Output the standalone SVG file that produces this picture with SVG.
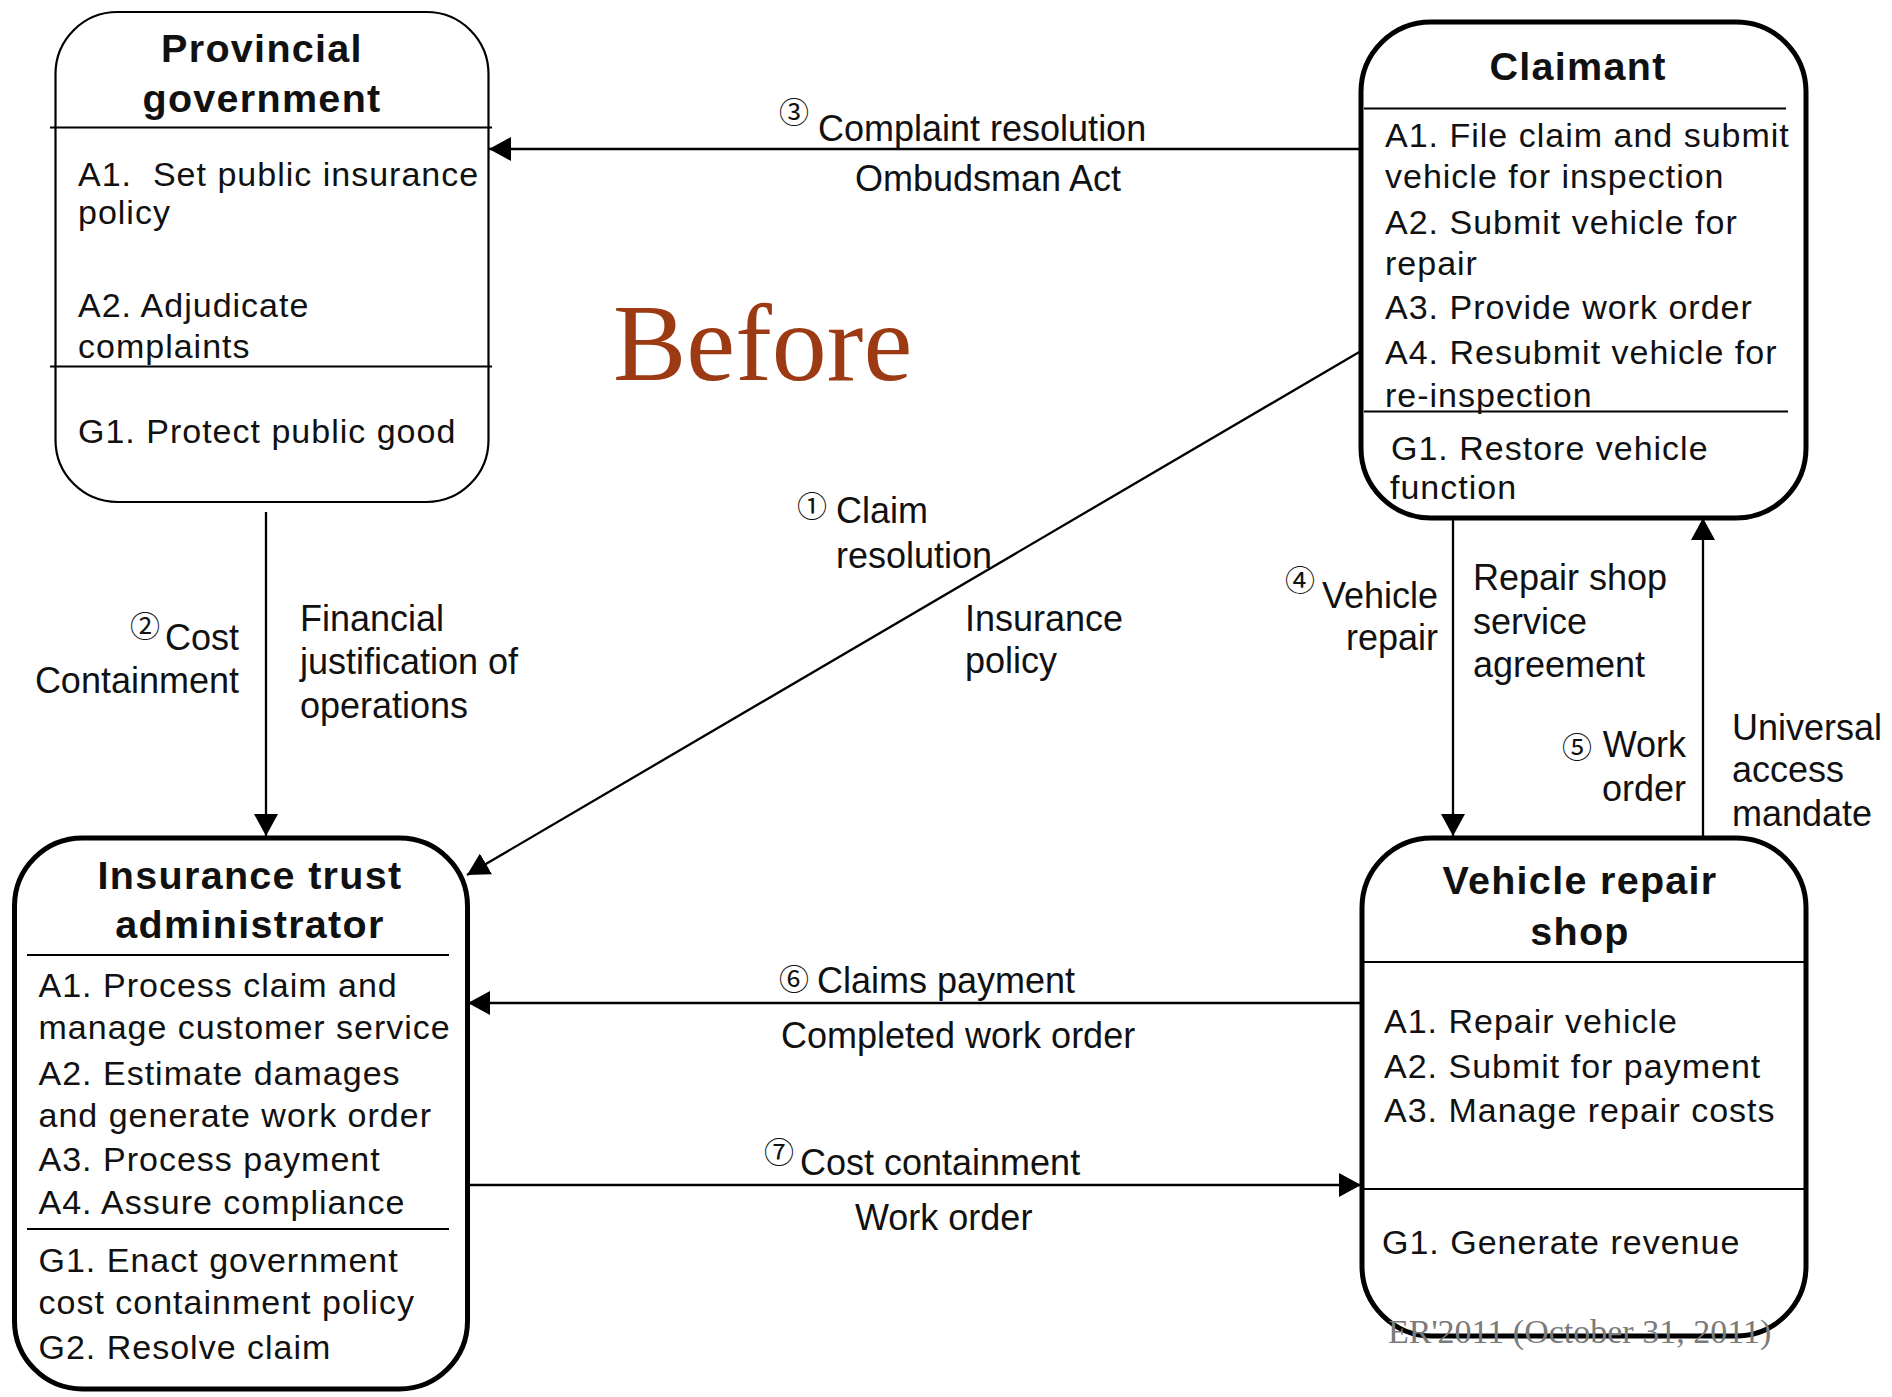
<svg xmlns="http://www.w3.org/2000/svg" width="1892" height="1397" viewBox="0 0 1892 1397">
  <style>
    text { font-family: "Liberation Sans", Arial, sans-serif; fill: #111; }
    .title { font-size: 39.5px; font-weight: bold; letter-spacing: 1.3px; text-anchor: middle; }
    .body { font-size: 34px; letter-spacing: 1px; }
    .lbl { font-size: 36px; }
    .end { text-anchor: end; }
    .num { font-family: "Noto Sans CJK JP", "DejaVu Sans", sans-serif; font-size: 30px; text-anchor: middle; dominant-baseline: central; }
    .box { fill: #fff; stroke: #000; stroke-width: 5; }
    .box.thin { stroke-width: 2.2; }
    .div { stroke: #000; stroke-width: 2; }
    .conn { stroke: #000; stroke-width: 2.3; fill: none; marker-end: url(#arrow); }
  </style>
  <defs>
    <marker id="arrow" viewBox="0 0 22 24" refX="22" refY="12" markerWidth="22" markerHeight="24" markerUnits="userSpaceOnUse" orient="auto">
      <path d="M0,0 L22,12 L0,24 Z" fill="#000"/>
    </marker>
  </defs>

  <rect width="1892" height="1397" fill="#fff"/>

  <!-- connectors -->
  <g id="connectors">
    <line class="conn" x1="1361" y1="149" x2="489" y2="149"/>
    <line class="conn" x1="1361" y1="351" x2="467" y2="875"/>
    <line class="conn" x1="266" y1="512" x2="266" y2="836"/>
    <line class="conn" x1="1453" y1="518" x2="1453" y2="836"/>
    <line class="conn" x1="1703" y1="838" x2="1703" y2="518"/>
    <line class="conn" x1="1361" y1="1003" x2="468" y2="1003"/>
    <line class="conn" x1="468" y1="1185" x2="1361" y2="1185"/>
  </g>

  <!-- connector labels -->
  <g id="labels">
    <text class="num" x="794" y="110">③</text>
    <text class="lbl" x="818" y="141">Complaint resolution</text>
    <text class="lbl" x="855" y="191">Ombudsman Act</text>

    <text class="num" x="812" y="504">①</text>
    <text class="lbl" x="836" y="523">Claim</text>
    <text class="lbl" x="836" y="568">resolution</text>
    <text class="lbl" x="965" y="631">Insurance</text>
    <text class="lbl" x="965" y="673">policy</text>

    <text class="num" x="145" y="624">②</text>
    <text class="lbl end" x="239" y="650">Cost</text>
    <text class="lbl end" x="239" y="693">Containment</text>
    <text class="lbl" x="300" y="631">Financial</text>
    <text class="lbl" x="300" y="674">justification of</text>
    <text class="lbl" x="300" y="718">operations</text>

    <text class="num" x="1300" y="578">④</text>
    <text class="lbl end" x="1438" y="608">Vehicle</text>
    <text class="lbl end" x="1438" y="650">repair</text>
    <text class="lbl" x="1473" y="590">Repair shop</text>
    <text class="lbl" x="1473" y="634">service</text>
    <text class="lbl" x="1473" y="677">agreement</text>

    <text class="num" x="1577" y="745">⑤</text>
    <text class="lbl end" x="1686" y="757">Work</text>
    <text class="lbl end" x="1686" y="801">order</text>
    <text class="lbl" x="1732" y="740">Universal</text>
    <text class="lbl" x="1732" y="782">access</text>
    <text class="lbl" x="1732" y="826">mandate</text>

    <text class="num" x="794" y="977">⑥</text>
    <text class="lbl" x="817" y="993">Claims payment</text>
    <text class="lbl" x="781" y="1048">Completed work order</text>

    <text class="num" x="779" y="1150">⑦</text>
    <text class="lbl" x="800" y="1175">Cost containment</text>
    <text class="lbl" x="855" y="1230">Work order</text>
  </g>

  <!-- Provincial government -->
  <g id="node-provincial">
    <rect class="box thin" x="55.5" y="12" width="433" height="490" rx="62" ry="62"/>
    <line class="div" x1="50" y1="127.5" x2="492" y2="127.5"/>
    <line class="div" x1="50" y1="366.5" x2="492" y2="366.5"/>
    <text class="title" x="262" y="62">Provincial</text>
    <text class="title" x="262" y="112">government</text>
    <text class="body" x="78" y="186" xml:space="preserve">A1.  Set public insurance</text>
    <text class="body" x="78" y="224">policy</text>
    <text class="body" x="78" y="317">A2. Adjudicate</text>
    <text class="body" x="78" y="358">complaints</text>
    <text class="body" x="78" y="443">G1. Protect public good</text>
  </g>

  <!-- Claimant -->
  <g id="node-claimant">
    <rect class="box" x="1361" y="22" width="445" height="496" rx="70" ry="70"/>
    <line class="div" x1="1364" y1="108.5" x2="1786" y2="108.5"/>
    <line class="div" x1="1364" y1="411.5" x2="1788" y2="411.5"/>
    <text class="title" x="1578" y="80">Claimant</text>
    <text class="body" x="1385" y="147">A1. File claim and submit</text>
    <text class="body" x="1385" y="188">vehicle for inspection</text>
    <text class="body" x="1385" y="234">A2. Submit vehicle for</text>
    <text class="body" x="1385" y="275">repair</text>
    <text class="body" x="1385" y="319">A3. Provide work order</text>
    <text class="body" x="1385" y="364">A4. Resubmit vehicle for</text>
    <text class="body" x="1385" y="407">re-inspection</text>
    <text class="body" x="1391" y="460">G1. Restore vehicle</text>
    <text class="body" x="1390" y="499">function</text>
  </g>

  <!-- Insurance trust administrator -->
  <g id="node-insurance">
    <rect class="box" x="14.5" y="838" width="453" height="551" rx="68" ry="68"/>
    <line class="div" x1="27" y1="955" x2="449" y2="955"/>
    <line class="div" x1="27" y1="1229" x2="449" y2="1229"/>
    <text class="title" x="250" y="889">Insurance trust</text>
    <text class="title" x="250" y="938">administrator</text>
    <text class="body" x="38.5" y="997">A1. Process claim and</text>
    <text class="body" x="38.5" y="1039">manage customer service</text>
    <text class="body" x="38.5" y="1085">A2. Estimate damages</text>
    <text class="body" x="38.5" y="1127">and generate work order</text>
    <text class="body" x="38.5" y="1171">A3. Process payment</text>
    <text class="body" x="38.5" y="1214">A4. Assure compliance</text>
    <text class="body" x="38.5" y="1272">G1. Enact government</text>
    <text class="body" x="38.5" y="1314">cost containment policy</text>
    <text class="body" x="38.5" y="1359">G2. Resolve claim</text>
  </g>

  <!-- Vehicle repair shop -->
  <g id="node-repair-shop">
    <rect class="box" x="1362" y="838" width="444" height="498" rx="70" ry="70"/>
    <line class="div" x1="1362" y1="962" x2="1804" y2="962"/>
    <line class="div" x1="1362" y1="1189" x2="1804" y2="1189"/>
    <text class="title" x="1580" y="894">Vehicle repair</text>
    <text class="title" x="1580" y="945">shop</text>
    <text class="body" x="1384" y="1033">A1. Repair vehicle</text>
    <text class="body" x="1384" y="1078">A2. Submit for payment</text>
    <text class="body" x="1384" y="1122">A3. Manage repair costs</text>
    <text class="body" x="1382" y="1254">G1. Generate revenue</text>
  </g>

  <!-- heading and footer -->
  <text x="613" y="380" style="font-family: 'Liberation Serif', 'Times New Roman', serif; font-size: 110px; fill: #9c3a13;">Before</text>
  <text x="1388" y="1343" style="font-family: 'Liberation Serif', 'Times New Roman', serif; font-size: 34px; fill: #7a7a7a;">ER'2011 (October 31, 2011)</text>
</svg>
